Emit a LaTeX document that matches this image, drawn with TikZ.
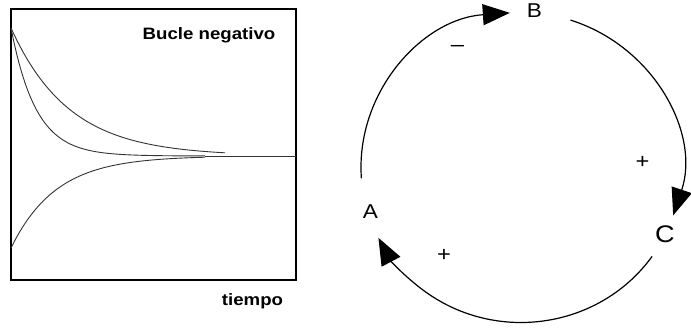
\documentclass[tikz,border=0pt]{standalone}
\usepackage{fontspec}
\setmainfont{Liberation Sans}[FakeStretch=1.13]
\usetikzlibrary{arrows.meta}
\pgfdeclarelayer{edgelayer}
\pgfdeclarelayer{nodelayer}
\pgfsetlayers{edgelayer,nodelayer,main}
\tikzstyle{frame}=[draw=black, line width=2.4pt]
\tikzstyle{curve}=[draw=black!80, line width=0.9pt]
\tikzstyle{loop}=[draw=black, line width=1.2pt, -{Triangle[length=27pt, width=21pt]}]
\tikzstyle{title}=[inner sep=0pt, anchor=base, font=\fontsize{16.5}{19}\selectfont\bfseries]
\tikzstyle{vertex}=[inner sep=0pt, anchor=base, font=\fontsize{20}{23}\selectfont]
\tikzstyle{sign}=[inner sep=0pt, font=\fontsize{21}{23}\selectfont]

\begin{document}
\begin{tikzpicture}[x=1pt, y=1pt]
				\useasboundingbox (0, 0) rectangle (691, 327);
				\begin{pgfonlayer}{nodelayer}
					\node [style=title] (0) at (209, 287) {Bucle negativo};
					\node [style=title] (1) at (252.5, 22) {tiempo};
					\node [style=vertex] (2) at (370.5, 108) {A};
					\node [style=vertex] (3) at (534.5, 309.5) {B};
					\node [style=vertex, font=\fontsize{24}{27}\selectfont] (4) at (665, 84.5) {C};
					\node [style=sign] (5) at (457.5, 279) {–};
					\node [style=sign] (6) at (642.5, 164.5) {+};
					\node [style=sign] (7) at (444, 72) {+};
				\end{pgfonlayer}
				\begin{pgfonlayer}{edgelayer}
					% graph
					\coordinate (8) at (11, 318);
					\coordinate (9) at (296, 47);
					\coordinate (10) at (205, 171);
					\coordinate (11) at (296, 171);
					\draw [style=frame] (8) rectangle (9);
					\draw [style=curve] plot [domain=11:225, samples=70] (\x, {171+128*exp(-(\x-11)/58)});
					\draw [style=curve] plot [domain=11:205, samples=70] (\x, {171+128*exp(-(\x-11)/25)});
					\draw [style=curve] plot [domain=11:205, samples=70] (\x, {171-92*exp(-(\x-11)/45)});
					\draw [style=curve] (10) to (11);
					% loop
					\coordinate (12) at (521, 159.5);
					\coordinate (13) at ([shift={(184:160 and 155)}]12);
					\coordinate (14) at ([shift={(72:160 and 155)}]12);
					\coordinate (15) at ([shift={(-35:160 and 155)}]12);
					\draw [style=loop] (13) arc [start angle=184, end angle=94, x radius=160, y radius=155];
					\draw [style=loop] (14) arc [start angle=72, end angle=-18, x radius=160, y radius=155];
					\draw [style=loop] (15) arc [start angle=-35, end angle=-153, x radius=160, y radius=155];
				\end{pgfonlayer}
			\end{tikzpicture}
\end{document}
